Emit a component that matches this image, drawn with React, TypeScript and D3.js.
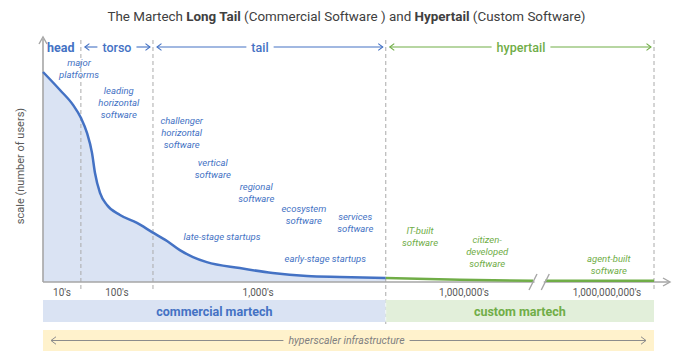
import React, { useEffect, useRef } from "react";
import * as d3 from "d3";

const W = 693;
const H = 360;

// rank position (0..1000 conceptual rank along the long tail) and scale (0..100)
const blueRank = [0, 27.8, 49.1, 62.2, 72, 80.2, 85.1, 93.3, 104.7, 126, 153.8, 178.4, 203, 224, 245.5, 268, 322, 376, 432, 486, 561];
const blueScale = [87.5, 80, 73.8, 68.3, 62.1, 53.8, 45.4, 37.1, 32.1, 27.9, 24.6, 20.8, 17.1, 13.3, 10.4, 8.3, 5.8, 3.75, 2.5, 2.1, 1.7];
const greenRankA = [561, 682, 802];
const greenScaleA = [1.7, 0.9, 0.5];
const greenRankB = [822, 1000];
const greenScaleB = [0.5, 0.5];
const breakRank = [802, 822];

const segNames = ["head", "torso", "tail", "hypertail"];
const segBounds = [0, 62, 180, 561, 1000];

const tickLabels = ["10's", "100's", "1,000's", "1,000,000's", "1,000,000,000's"];
const tickRanks = [31, 121, 352, 689, 923];

const boxLabels = ["commercial martech", "custom martech"];
const boxBounds = [0, 561, 1000];
const infraLabel = "hyperscaler infrastructure";

const blueLabelLines = [
  ["major", "platforms"],
  ["leading", "horizontal", "software"],
  ["challenger", "horizontal", "software"],
  ["vertical", "software"],
  ["regional", "software"],
  ["ecosystem", "software"],
  ["services", "software"],
  ["late-stage startups"],
  ["early-stage startups"],
];
const blueLabelRank = [59, 124, 227, 278, 349, 427, 511, 293, 462];
const blueLabelScale = [91.3, 79.6, 67.5, 49.6, 40, 30.8, 27.1, 18.8, 9.6];

const greenLabelLines = [
  ["IT-built", "software"],
  ["citizen-", "developed", "software"],
  ["agent-built", "software"],
];
const greenLabelRank = [617, 727, 926];
const greenLabelScale = [21.3, 17.9, 9.6];

const BLUE = "#4472c4";
const GREEN = "#70ad47";
const GRAY = "#a6a6a6";
const FONT = "Roboto, 'Noto Sans', sans-serif";

export default function App() {
  const ref = useRef<SVGSVGElement | null>(null);

  useEffect(() => {
    const svg = d3.select(ref.current);
    svg.selectAll("*").remove();

    const x = d3.scaleLinear().domain([0, 1000]).range([43, 654]);
    const y = d3.scaleLinear().domain([0, 100]).range([282, 42]);
    const axisY = y(0);

    // title
    const title = svg
      .append("text")
      .attr("x", W / 2)
      .attr("y", 21)
      .attr("text-anchor", "middle")
      .attr("font-family", FONT)
      .attr("font-size", 13.4)
      .attr("fill", "#404040");
    const parts: [string, boolean][] = [
      ["The Martech ", false],
      ["Long Tail", true],
      [" (Commercial Software ) and ", false],
      ["Hypertail", true],
      [" (Custom Software)", false],
    ];
    parts.forEach(([t, b]) => {
      title.append("tspan").attr("font-weight", b ? "bold" : "normal").text(t);
    });

    const curve = d3.curveMonotoneX;

    // area under blue curve
    const bluePts = blueRank.map((r, i) => [r, blueScale[i]] as [number, number]);
    const area = d3
      .area<[number, number]>()
      .x((d) => x(d[0]))
      .y0(axisY)
      .y1((d) => y(d[1]))
      .curve(curve);
    svg.append("path").attr("d", area(bluePts)).attr("fill", "#dae3f3");

    // dashed boundaries
    segBounds.slice(1).forEach((b) => {
      svg
        .append("line")
        .attr("x1", x(b))
        .attr("x2", x(b))
        .attr("y1", 40)
        .attr("y2", b === 561 ? 326 : 291)
        .attr("stroke", "#aaaaaa")
        .attr("stroke-width", 1)
        .attr("stroke-dasharray", "4,3");
    });

    // boxes
    const boxG = svg.append("g");
    boxLabels.forEach((lab, i) => {
      const x0 = x(boxBounds[i]);
      const x1 = x(boxBounds[i + 1]);
      boxG
        .append("rect")
        .attr("x", x0)
        .attr("y", 300)
        .attr("width", x1 - x0)
        .attr("height", 22)
        .attr("fill", i === 0 ? "#dae3f3" : "#e2efda");
      boxG
        .append("text")
        .attr("x", (x0 + x1) / 2)
        .attr("y", 315.5)
        .attr("text-anchor", "middle")
        .attr("font-family", FONT)
        .attr("font-weight", "bold")
        .attr("font-size", 12.5)
        .attr("fill", i === 0 ? BLUE : GREEN)
        .text(lab);
    });
    svg
      .append("line")
      .attr("x1", x(561))
      .attr("x2", x(561))
      .attr("y1", 296)
      .attr("y2", 326)
      .attr("stroke", "#ffffff")
      .attr("stroke-opacity", 0.6)
      .attr("stroke-width", 1)
      .attr("stroke-dasharray", "4,3");

    // infrastructure box
    svg
      .append("rect")
      .attr("x", x(0))
      .attr("y", 330)
      .attr("width", x(1000) - x(0))
      .attr("height", 21)
      .attr("fill", "#fff2cc");
    const infraText = svg
      .append("text")
      .attr("x", W / 2)
      .attr("y", 344)
      .attr("text-anchor", "middle")
      .attr("font-family", FONT)
      .attr("font-style", "italic")
      .attr("font-size", 10.5)
      .attr("fill", "#808080")
      .text(infraLabel);
    const iw = (infraText.node() as SVGTextElement).getComputedTextLength();

    const arrowPair = (
      g: any,
      xa: number,
      xb: number,
      yy: number,
      cx: number,
      tw: number,
      color: string,
      sw: number,
      head: number
    ) => {
      const l = cx - tw / 2 - 5;
      const r = cx + tw / 2 + 5;
      g.append("line").attr("x1", xa).attr("x2", l).attr("y1", yy).attr("y2", yy).attr("stroke", color).attr("stroke-width", sw);
      g.append("line").attr("x1", r).attr("x2", xb).attr("y1", yy).attr("y2", yy).attr("stroke", color).attr("stroke-width", sw);
      g.append("path")
        .attr("d", `M${xa + head},${yy - head * 0.75} L${xa},${yy} L${xa + head},${yy + head * 0.75}`)
        .attr("fill", "none")
        .attr("stroke", color)
        .attr("stroke-width", sw);
      g.append("path")
        .attr("d", `M${xb - head},${yy - head * 0.75} L${xb},${yy} L${xb - head},${yy + head * 0.75}`)
        .attr("fill", "none")
        .attr("stroke", color)
        .attr("stroke-width", sw);
    };
    arrowPair(svg, x(0) + 8, x(1000) - 8, 340.5, W / 2, iw, "#8c8c8c", 1, 5);

    // header row
    const headY = 47;
    segNames.forEach((name, i) => {
      const x0 = x(segBounds[i]);
      const x1 = x(segBounds[i + 1]);
      const color = name === "hypertail" ? GREEN : BLUE;
      if (name === "head") {
        svg
          .append("text")
          .attr("x", x0 + 4)
          .attr("y", headY + 4.5)
          .attr("font-family", FONT)
          .attr("font-weight", "bold")
          .attr("font-size", 12.5)
          .attr("fill", color)
          .text(name);
        return;
      }
      const cx = name === "tail" ? 260 : name === "hypertail" ? 521 : (x0 + x1) / 2;
      const t = svg
        .append("text")
        .attr("x", cx)
        .attr("y", headY + 4.5)
        .attr("text-anchor", "middle")
        .attr("font-family", FONT)
        .attr("font-weight", 500)
        .attr("font-size", 12.5)
        .attr("fill", color)
        .text(name);
      const tw = (t.node() as SVGTextElement).getComputedTextLength();
      arrowPair(svg, x0 + 4, x1 - 3, headY, cx, tw, color, 1.1, 4.5);
    });

    // axes
    svg
      .append("line")
      .attr("x1", x(0))
      .attr("x2", x(0))
      .attr("y1", axisY)
      .attr("y2", 39)
      .attr("stroke", GRAY)
      .attr("stroke-width", 1.6);
    svg
      .append("path")
      .attr("d", `M${x(0) - 4},${44} L${x(0)},${37} L${x(0) + 4},${44}`)
      .attr("fill", "none")
      .attr("stroke", GRAY)
      .attr("stroke-width", 1.4);
    svg
      .append("line")
      .attr("x1", x(0))
      .attr("x2", 669)
      .attr("y1", axisY)
      .attr("y2", axisY)
      .attr("stroke", GRAY)
      .attr("stroke-width", 1.6);
    svg
      .append("path")
      .attr("d", `M${663},${axisY - 4} L${670},${axisY} L${663},${axisY + 4}`)
      .attr("fill", "none")
      .attr("stroke", GRAY)
      .attr("stroke-width", 1.4);

    // y label
    svg
      .append("text")
      .attr("transform", `translate(24,166) rotate(-90)`)
      .attr("text-anchor", "middle")
      .attr("font-family", FONT)
      .attr("font-size", 11)
      .attr("fill", "#595959")
      .text("scale (number of users)");

    // curves
    const line = d3
      .line<[number, number]>()
      .x((d) => x(d[0]))
      .y((d) => y(d[1]))
      .curve(curve);
    svg
      .append("path")
      .attr("d", line(bluePts))
      .attr("fill", "none")
      .attr("stroke", BLUE)
      .attr("stroke-width", 2.5);
    const gA = greenRankA.map((r, i) => [r, greenScaleA[i]] as [number, number]);
    const gB = greenRankB.map((r, i) => [r, greenScaleB[i]] as [number, number]);
    [gA, gB].forEach((pts) => {
      svg
        .append("path")
        .attr("d", line(pts))
        .attr("fill", "none")
        .attr("stroke", GREEN)
        .attr("stroke-width", 2.5);
    });

    // break marks
    const bx0 = x(breakRank[0]);
    const bx1 = x(breakRank[1]);
    svg
      .append("rect")
      .attr("x", bx0 + 1.5)
      .attr("y", axisY - 5)
      .attr("width", bx1 - bx0 - 3)
      .attr("height", 10)
      .attr("fill", "#ffffff");
    [bx0, bx1].forEach((bx) => {
      svg
        .append("line")
        .attr("x1", bx - 4)
        .attr("y1", axisY + 8)
        .attr("x2", bx + 4)
        .attr("y2", axisY - 8)
        .attr("stroke", GRAY)
        .attr("stroke-width", 1.4);
    });

    // tick labels
    tickLabels.forEach((lab, i) => {
      svg
        .append("text")
        .attr("x", x(tickRanks[i]))
        .attr("y", 296)
        .attr("text-anchor", "middle")
        .attr("font-family", FONT)
        .attr("font-size", 10)
        .attr("fill", "#595959")
        .text(lab);
    });

    // annotations
    const annotate = (lines: string[][], ranks: number[], scales: number[], color: string) => {
      lines.forEach((ls, i) => {
        const t = svg
          .append("text")
          .attr("text-anchor", "middle")
          .attr("font-family", FONT)
          .attr("font-style", "italic")
          .attr("font-size", 9.5)
          .attr("fill", color);
        ls.forEach((l, j) => {
          t.append("tspan")
            .attr("x", x(ranks[i]))
            .attr("y", y(scales[i]) + 3.5 + j * 12)
            .text(l);
        });
      });
    };
    annotate(blueLabelLines, blueLabelRank, blueLabelScale, BLUE);
    annotate(greenLabelLines, greenLabelRank, greenLabelScale, GREEN);
  }, []);

  return (
    <svg
      ref={ref}
      width={W}
      height={H}
      viewBox={`0 0 ${W} ${H}`}
      style={{ position: "absolute", left: 0, top: 0, background: "#ffffff" }}
    />
  );
}
